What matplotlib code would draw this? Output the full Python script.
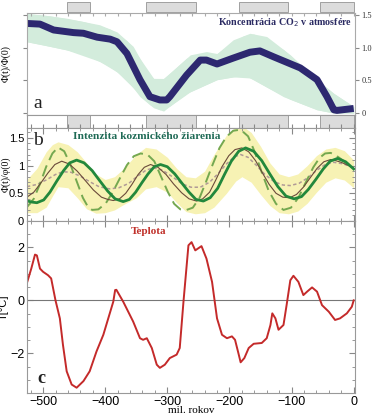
import numpy as np
import matplotlib
matplotlib.use("Agg")
import matplotlib.pyplot as plt

plt.rcParams['font.family'] = ['Liberation Sans', 'DejaVu Sans']

# chladne obdobia (mil. rokov)
cold_start = [-462, -335, -184, -55]
cold_end = [-424, -254, -105, 0]

# a) koncentracia CO2
co2_age = [-526, -505, -483, -451, -435, -413, -392, -381, -365, -344, -328, -312,
           -301, -296, -269, -247, -237, -220, -194, -167, -151, -129, -86, -59,
           -43, -32, -27, 0]
co2_val = [1.37, 1.36, 1.27, 1.23, 1.22, 1.16, 1.13, 1.09, 0.91, 0.51, 0.25, 0.20,
           0.20, 0.25, 0.58, 0.81, 0.81, 0.75, 0.84, 0.93, 0.95, 0.86, 0.69, 0.51,
           0.25, 0.05, 0.04, 0.07]
co2_up_age = [-526, -500, -462, -409, -381, -355, -328, -312, -296, -263, -237, -220,
              -194, -167, -140, -102, -59, -32, 0]
co2_up = [1.52, 1.50, 1.45, 1.35, 1.24, 1.02, 0.56, 0.48, 0.61, 0.89, 0.94, 0.91,
          1.12, 1.22, 1.17, 0.89, 0.51, 0.30, 0.10]
co2_lo_age = [-526, -489, -435, -392, -365, -344, -322, -306, -290, -269, -220, -177,
              -161, -113, -59, -32, 0]
co2_lo = [1.09, 1.02, 0.91, 0.71, 0.51, 0.25, 0.08, 0.03, 0.15, 0.30, 0.51, 0.58,
          0.51, 0.25, 0.05, 0.0, 0.0]

# b) intenzita kozmickeho ziarenia
cr_age = [-525, -517, -510, -499, -489, -478, -467, -457, -446, -434, -421, -409, -396,
          -384, -371, -361, -351, -341, -331, -321, -311, -300, -288, -277, -265, -254,
          -242, -231, -219, -208, -197, -185, -174, -161, -148, -135, -122, -109, -96,
          -84, -73, -61, -49, -38, -26, -13, 0]
cr_val = [0.36, 0.34, 0.33, 0.38, 0.52, 0.72, 0.91, 1.05, 1.10, 1.05, 0.91, 0.73, 0.54,
          0.40, 0.35, 0.39, 0.52, 0.69, 0.85, 0.98, 1.02, 0.98, 0.85, 0.69, 0.52, 0.39,
          0.36, 0.42, 0.59, 0.84, 1.08, 1.26, 1.32, 1.26, 1.09, 0.85, 0.62, 0.45, 0.40,
          0.44, 0.57, 0.75, 0.94, 1.08, 1.13, 1.07, 0.94]
thin_age = [-526, -515, -504, -492, -481, -470, -458, -445, -432, -419, -406, -396,
            -387, -377, -367, -357, -347, -337, -327, -315, -302, -290, -277, -265,
            -253, -243, -232, -222, -212, -201, -191, -180, -169, -158, -147, -136,
            -125, -114, -103, -92, -81, -70, -59, -48, -37, -32, -20, -10, 0]
thin_val = [0.43, 0.52, 0.68, 0.87, 1.02, 1.08, 1.03, 0.90, 0.73, 0.56, 0.43, 0.39,
            0.37, 0.40, 0.50, 0.66, 0.84, 0.97, 1.02, 0.97, 0.84, 0.67, 0.51, 0.40,
            0.36, 0.40, 0.52, 0.74, 0.98, 1.18, 1.29, 1.32, 1.25, 1.09, 0.87, 0.66,
            0.50, 0.43, 0.42, 0.48, 0.61, 0.78, 0.95, 1.07, 1.11, 1.10, 1.06, 1.01, 0.95]
dash_age = [-526, -515, -505, -495, -485, -476, -466, -456, -446, -436, -428, -421,
            -411, -399, -388, -376, -365, -354, -343, -332, -321, -310, -299, -289,
            -279, -269, -259, -248, -238, -227, -216, -205, -194, -182, -170, -159,
            -148, -137, -125, -113, -101, -89, -77, -65, -55, -46, -37, -28, -18, -9, 0]
dash_val = [0.25, 0.40, 0.67, 0.98, 1.22, 1.33, 1.26, 1.02, 0.72, 0.42, 0.26, 0.20,
            0.21, 0.32, 0.52, 0.78, 1.01, 1.17, 1.22, 1.20, 1.08, 0.80, 0.52, 0.31,
            0.21, 0.20, 0.24, 0.42, 0.70, 1.02, 1.32, 1.52, 1.63, 1.65, 1.53, 1.24,
            0.88, 0.55, 0.31, 0.20, 0.24, 0.42, 0.70, 0.97, 1.14, 1.22, 1.23, 1.18,
            1.10, 1.02, 0.95]
sdash_age = [-526, -510, -495, -480, -468, -455, -440, -425, -410, -393, -378, -362,
             -348, -334, -322, -308, -292, -276, -262, -247, -232, -218, -204, -192,
             -182, -170, -157, -143, -128, -114, -102, -88, -74, -60, -46, -32, -16, 0]
sdash_val = [0.62, 0.66, 0.74, 0.84, 0.89, 0.88, 0.81, 0.71, 0.62, 0.58, 0.60, 0.68,
             0.81, 0.92, 0.96, 0.92, 0.80, 0.67, 0.61, 0.61, 0.70, 0.86, 1.04, 1.16,
             1.20, 1.15, 1.01, 0.84, 0.71, 0.65, 0.64, 0.68, 0.78, 0.91, 1.02, 1.06,
             1.03, 0.96]
band_age = [-526, -510, -495, -485, -476, -460, -445, -430, -415, -400, -385, -370,
            -350, -335, -318, -300, -285, -270, -255, -240, -225, -205, -190, -180,
            -165, -150, -135, -120, -105, -90, -75, -60, -45, -30, -15, 0]
band_up = [0.75, 0.95, 1.25, 1.38, 1.43, 1.38, 1.25, 1.05, 0.85, 0.75, 0.80, 0.95,
           1.20, 1.33, 1.30, 1.15, 0.95, 0.80, 0.78, 0.90, 1.20, 1.55, 1.70, 1.72,
           1.60, 1.35, 1.05, 0.85, 0.80, 0.85, 1.00, 1.18, 1.30, 1.33, 1.27, 1.10]
band_lo = [0.15, 0.15, 0.25, 0.45, 0.62, 0.60, 0.42, 0.22, 0.14, 0.15, 0.20, 0.30,
           0.42, 0.58, 0.62, 0.52, 0.33, 0.17, 0.13, 0.15, 0.25, 0.50, 0.72, 0.80,
           0.70, 0.48, 0.28, 0.15, 0.13, 0.18, 0.32, 0.52, 0.70, 0.78, 0.74, 0.60]

# c) teplota
t_age = [-527, -519, -513, -510, -505, -500, -492, -487, -480, -473, -468, -462, -454,
         -446, -435, -425, -414, -403, -387, -384, -382, -371, -355, -344, -339, -333,
         -325, -317, -312, -304, -296, -285, -280, -274, -266, -261, -255, -245, -237,
         -228, -220, -212, -204, -196, -191, -185, -182, -176, -169, -161, -148, -140,
         -134, -131, -126, -121, -113, -108, -102, -97, -89, -81, -75, -67, -59, -51,
         -40, -30, -22, -11, -3, 0]
t_val = [0.58, 1.20, 1.73, 1.70, 1.20, 1.08, 0.95, 0.83, 0.0, -0.68, -1.68, -2.68,
         -3.18, -3.30, -3.05, -2.68, -1.93, -1.30, -0.05, 0.39, 0.40, -0.05, -0.80,
         -1.43, -1.49, -1.43, -1.80, -2.43, -2.55, -2.43, -2.18, -2.05, -1.80, -0.05,
         2.08, 2.20, 1.89, 2.05, 1.58, 0.70, -0.68, -1.30, -1.43, -1.36, -1.49, -2.05,
         -2.34, -2.18, -1.80, -1.64, -1.61, -1.43, -0.93, -0.49, -0.68, -1.11, -0.93,
         -0.18, 0.76, 0.93, 0.70, 0.20, 0.33, 0.49, 0.33, -0.18, -0.43, -0.74, -0.68,
         -0.49, -0.24, 0.0]

serif = ['Liberation Serif', 'DejaVu Serif']
xmin, xmax = -526, 2
L, W = 0.072, 0.877

fig = plt.figure(figsize=(3.74, 4.15), dpi=100)

# horny pas s chladnymi obdobiami
ax0 = fig.add_axes([L, 0.9687, W, 0.0265])
for s, e in zip(cold_start, cold_end):
    ax0.axvspan(s, e, ymin=0.12, ymax=1.0, facecolor='#dcdcdc', edgecolor='#a0a0a0', lw=0.7)
ax0.set_xlim(xmin, xmax)
ax0.axis('off')

# panel a
axa = fig.add_axes([L, 0.7229, W, 0.2458])
axa.fill_between(co2_up_age, np.interp(co2_up_age, co2_lo_age, co2_lo), co2_up,
                 color='#d3ecdc', lw=0)
axa.fill_between(co2_lo_age, co2_lo, np.interp(co2_lo_age, co2_up_age, co2_up),
                 color='#d3ecdc', lw=0)
axa.plot(co2_age, co2_val, color='#2d2870', lw=5.0, solid_capstyle='butt',
         solid_joinstyle='round')
axa.set_xlim(xmin, xmax)
axa.set_ylim(-0.03, 1.53)
axa.set_yticks([0, 0.5, 1.0, 1.5])
axa.set_yticklabels(['0', '0.5', '1.0', '1.5'], fontfamily=serif)
axa.yaxis.tick_right()
axa.tick_params(axis='y', labelsize=6, color='#888888', labelcolor='#333333', length=3, pad=1.5)
axa.tick_params(axis='y', which='both', left=True)
axa.set_xticks(np.arange(-520, 1, 20))
axa.tick_params(axis='x', direction='in', top=True, bottom=False, labelbottom=False,
                length=2.5, color='#aaaaaa')
for sp in axa.spines.values():
    sp.set_color('#aaaaaa')
    sp.set_linewidth(0.8)
axa.set_ylabel('Φ(t)/Φ(0)', fontsize=7, fontfamily=serif)
axa.yaxis.set_label_position('left')
axa.yaxis.set_label_coords(-0.05, 0.5)
axa.text(-3, 1.38, 'Koncentrácia CO$_2$ v atmosfére', ha='right', va='center',
         fontsize=7.2, fontweight='bold', color='#2a2a62', fontfamily=serif)
axa.text(-516, 0.15, 'a', fontsize=14, fontfamily=serif, color='#222222', va='center')

# stredny pas
axm = fig.add_axes([L, 0.6916, W, 0.0313])
for s, e in zip(cold_start, cold_end):
    axm.axvspan(s, e, facecolor='#dcdcdc', edgecolor='#a0a0a0', lw=0.7)
axm.set_xlim(xmin, xmax)
axm.set_yticks([])
axm.set_xticks(np.arange(-520, 1, 20))
axm.tick_params(axis='x', direction='in', length=3, labelbottom=False, color='#888888')
for sp in axm.spines.values():
    sp.set_color('#999999')
    sp.set_linewidth(0.8)

# panel b
axb = fig.add_axes([L, 0.4675, W, 0.2241])
axb.fill_between(band_age, band_lo, band_up, color='#f7f2b4', lw=0)
axb.plot(sdash_age, sdash_val, color='#b09a96', lw=1.1, ls=(0, (2.2, 1.6)))
axb.plot(dash_age, dash_val, color='#74a850', lw=1.4, ls=(0, (6, 3)))
axb.plot(thin_age, thin_val, color='#6a4a3a', lw=0.8)
axb.plot(cr_age, cr_val, color='#22883c', lw=2.0)
axb.set_xlim(xmin, xmax)
axb.set_ylim(0, 1.68)
axb.set_yticks([0, 0.5, 1, 1.5])
axb.set_yticklabels(['0', '0.5', '1', '1.5'])
axb.set_yticks(np.arange(0, 1.68, 0.1), minor=True)
axb.set_xticks(np.arange(-520, 1, 20), minor=True)
axb.set_xticks(np.arange(-500, 1, 100))
axb.tick_params(which='both', direction='in', top=True, right=True, labelbottom=False,
                labelsize=8, color='#888888', pad=2)
axb.tick_params(which='major', length=4)
axb.tick_params(which='minor', length=2)
for sp in axb.spines.values():
    sp.set_color('#999999')
    sp.set_linewidth(0.8)
axb.set_ylabel('Φ(t)/φ(0)', fontsize=7, fontfamily=serif)
axb.yaxis.set_label_coords(-0.05, 0.5)
axb.text(-516, 1.46, 'b', fontsize=14, fontfamily=serif, color='#222222', va='center')
axb.text(-452, 1.52, 'Intenzita kozmického žiarenia', fontsize=8.2, fontweight='bold',
         color='#1e6a55', fontfamily=serif, va='center')

# panel c
axc = fig.add_axes([L, 0.053, W, 0.4145])
axc.axhline(0, color='#777777', lw=0.8)
axc.plot(t_age, t_val, color='#c42a2a', lw=1.4, solid_joinstyle='round')
axc.set_xlim(xmin, xmax)
axc.set_ylim(-3.5, 3.0)
axc.set_yticks([-2, 0, 2])
axc.set_yticks(np.arange(-3.5, 3.01, 0.5), minor=True)
axc.set_xticks(np.arange(-500, 1, 100))
axc.set_xticks(np.arange(-520, 1, 20), minor=True)
axc.tick_params(which='both', direction='in', top=True, right=True, labelsize=9,
                color='#888888', pad=2)
axc.tick_params(which='major', length=4)
axc.tick_params(which='minor', length=2)
for sp in axc.spines.values():
    sp.set_color('#999999')
    sp.set_linewidth(0.8)
axc.set_ylabel('T[°C]', fontsize=8)
axc.yaxis.set_label_coords(-0.055, 0.5)
axc.set_xlabel('mil. rokov', fontsize=8, fontfamily=serif, labelpad=-1)
axc.text(-330, 2.6, 'Teplota', fontsize=8, fontweight='bold', color='#c0302a',
         fontfamily=serif, ha='center', va='center')
axc.text(-509, -2.95, 'c', fontsize=13, fontweight='bold', fontfamily=serif,
         color='#222222', va='center')

fig.savefig('out.png', dpi=100)
